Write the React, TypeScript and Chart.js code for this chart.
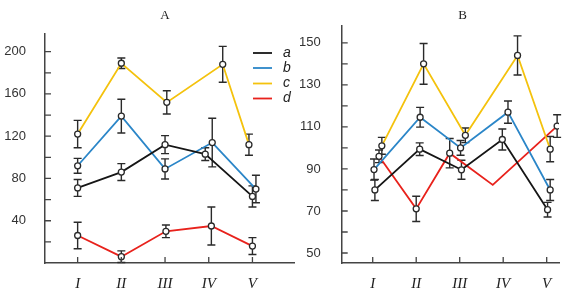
import React, { useEffect, useRef } from 'react';
import { Chart, registerables } from 'chart.js';
Chart.register(...registerables);

const categories = ['I', 'II', 'III', 'IV', 'V'];
const seriesNames = ['a', 'b', 'c', 'd'];
const seriesColors = ['#161616', '#2b86c8', '#f4c20d', '#e8221c'];

// Panel A values, errors and x placement (category units)
const aA = [71, 86, 112, 103, 63];
const bA = [92, 139, 89, 114, 70];
const cA = [122, 189, 152, 188, 112];
const dA = [26, 6, 30, 35, 16];
const aAErr = [8, 8, 8.5, 6, 10];
const bAErr = [7, 16, 9.5, 23, 13];
const cAErr = [13, 5, 11, 17, 10];
const dAErr = [12.5, 5.5, 6, 18, 8];
const aAx = [1, 2, 3, 3.92, 5];
const bAx = [1, 2, 3, 4.08, 5.08];
const cAx = [1, 2, 3.04, 4.32, 4.92];
const dAx = [1, 2, 3.02, 4.06, 5];
const yTicksA = [0, 20, 40, 60, 80, 100, 120, 140, 160, 180, 200];
const yLabelsA = [40, 80, 120, 160, 200];

// Panel B
const aB = [80, 99.4, 89.6, 104, 70.6];
const bB = [89.7, 114.6, 100, 117, 80];
const cB = [101, 140, 106, 144, 99.4];
const dB = [96, 71, 97.5, 82.4, 110.4];
const aBErr = [5, 3, 4.5, 5, 3.5];
const bBErr = [5, 4.7, 3.5, 5.3, 5];
const cBErr = [4, 9.7, 3.5, 9.3, 6];
const dBErr = [3, 6, 7, 0, 5.4];
const aBx = [1.05, 2.08, 3.04, 3.98, 5.02];
const bBx = [1.03, 2.09, 3.02, 4.11, 5.08];
const cBx = [1.21, 2.17, 3.13, 4.33, 5.08];
const dBx = [1.145, 2.0, 2.77, 3.76, 5.24];
const dBMarkers = [true, true, true, false, true];
const yTicksB = [50, 60, 70, 80, 90, 100, 110, 120, 130, 140, 150];
const yLabelsB = [50, 70, 90, 110, 130, 150];

function makeDataset(i: number, xs: number[], ys: number[], errs: number[], markers?: boolean[]) {
  return {
    label: seriesNames[i],
    data: xs.map((x, k) => ({ x, y: ys[k] })),
    errors: errs,
    borderColor: seriesColors[i],
    borderWidth: 1.8,
    tension: 0,
    pointRadius: markers ? markers.map((m) => (m ? 3 : 0)) : 3,
    pointBackgroundColor: '#ffffff',
    pointBorderColor: '#2a2a2a',
    pointBorderWidth: 1.3,
  };
}

const errorBarPlugin = {
  id: 'errorBars',
  beforeDatasetsDraw(chart: any) {
    const { ctx, chartArea } = chart;
    const xs = chart.scales.x;
    const ys = chart.scales.y;
    ctx.save();
    ctx.strokeStyle = '#2a2a2a';
    ctx.lineWidth = 1.4;
    chart.data.datasets.forEach((ds: any) => {
      ds.data.forEach((p: any, k: number) => {
        const e = ds.errors[k];
        if (!e) return;
        const x = xs.getPixelForValue(p.x);
        const y1 = ys.getPixelForValue(p.y + e);
        const y2 = Math.min(ys.getPixelForValue(p.y - e), chartArea.bottom);
        ctx.beginPath();
        ctx.moveTo(x, y1);
        ctx.lineTo(x, y2);
        ctx.moveTo(x - 4, y1);
        ctx.lineTo(x + 4, y1);
        ctx.moveTo(x - 4, y2);
        ctx.lineTo(x + 4, y2);
        ctx.stroke();
      });
    });
    ctx.restore();
  },
};

const inwardTicksPlugin = {
  id: 'inwardTicks',
  afterDraw(chart: any) {
    const { ctx, chartArea } = chart;
    const xs = chart.scales.x;
    const ys = chart.scales.y;
    ctx.save();
    ctx.strokeStyle = '#444';
    ctx.lineWidth = 1.3;
    ctx.beginPath();
    ys.ticks.forEach((t: any) => {
      if (t.value <= ys.min) return;
      const y = ys.getPixelForValue(t.value);
      ctx.moveTo(chartArea.left, y);
      ctx.lineTo(chartArea.left + 6, y);
    });
    xs.ticks.forEach((t: any) => {
      const x = xs.getPixelForValue(t.value);
      ctx.moveTo(x, chartArea.bottom);
      ctx.lineTo(x, chartArea.bottom - 6);
    });
    ctx.stroke();
    ctx.restore();
  },
};

function makeDecorPlugin(title: string, titleX: number, withLegend: boolean) {
  return {
    id: 'decor',
    afterDraw(chart: any) {
      const { ctx } = chart;
      ctx.save();
      ctx.fillStyle = '#222';
      ctx.font = '13px "Liberation Serif", serif';
      ctx.textAlign = 'center';
      ctx.textBaseline = 'middle';
      ctx.fillText(title, titleX, 16);
      if (withLegend) {
        const ys = [53, 68, 83.5, 98.5];
        seriesNames.forEach((n, i) => {
          ctx.strokeStyle = seriesColors[i];
          ctx.lineWidth = 1.8;
          ctx.beginPath();
          ctx.moveTo(253, ys[i]);
          ctx.lineTo(272, ys[i]);
          ctx.stroke();
          ctx.fillStyle = '#222';
          ctx.font = 'italic 14px "Liberation Sans", Arial, sans-serif';
          ctx.textAlign = 'left';
          ctx.fillText(n, 283, ys[i]);
        });
      }
      ctx.restore();
    },
  };
}

function makeConfig(
  datasets: any[],
  xMin: number,
  xMax: number,
  yMin: number,
  yMax: number,
  yTicks: number[],
  yLabels: number[],
  yWidth: number,
  yPad: number,
  top: number,
  right: number,
  decor: any
) {
  return {
    type: 'line',
    data: { datasets },
    options: {
      animation: false,
      responsive: false,
      maintainAspectRatio: false,
      layout: { padding: { top, right, left: 0, bottom: 0 } },
      plugins: { legend: { display: false }, tooltip: { enabled: false }, title: { display: false } },
      scales: {
        x: {
          type: 'linear',
          min: xMin,
          max: xMax,
          afterBuildTicks: (s: any) => {
            s.ticks = categories.map((_, i) => ({ value: i + 1 }));
          },
          afterFit: (s: any) => {
            s.height = 32;
          },
          ticks: {
            autoSkip: false,
            maxRotation: 0,
            padding: 4,
            color: '#222',
            font: { family: '"Liberation Serif", serif', style: 'italic', size: 15 },
            callback: (v: any) => categories[Math.round(v) - 1] ?? '',
          },
          grid: { display: false },
          border: { display: true, color: '#444', width: 1.5 },
        },
        y: {
          type: 'linear',
          min: yMin,
          max: yMax,
          afterBuildTicks: (s: any) => {
            s.ticks = yTicks.map((v) => ({ value: v }));
          },
          afterFit: (s: any) => {
            s.width = yWidth;
          },
          ticks: {
            padding: yPad,
            color: '#333',
            font: { family: '"Liberation Sans", Arial, sans-serif', size: 13 },
            callback: (v: any) => (yLabels.includes(v) ? String(v) : ''),
          },
          grid: { display: false },
          border: { display: true, color: '#444', width: 1.5 },
        },
      },
    },
    plugins: [errorBarPlugin, inwardTicksPlugin, decor],
  } as any;
}

export default function App() {
  const leftRef = useRef<HTMLCanvasElement>(null);
  const rightRef = useRef<HTMLCanvasElement>(null);

  useEffect(() => {
    const left = new Chart(
      leftRef.current as HTMLCanvasElement,
      makeConfig(
        [
          makeDataset(0, aAx, aA, aAErr),
          makeDataset(1, bAx, bA, bAErr),
          makeDataset(2, cAx, cA, cAErr),
          makeDataset(3, dAx, dA, dAErr),
        ],
        0.253,
        5.967,
        0,
        216.7,
        yTicksA,
        yLabelsA,
        45,
        11,
        34,
        5,
        makeDecorPlugin('A', 165, true)
      )
    );
    const right = new Chart(
      rightRef.current as HTMLCanvasElement,
      makeConfig(
        [
          makeDataset(0, aBx, aB, aBErr),
          makeDataset(1, bBx, bB, bBErr),
          makeDataset(2, cBx, cB, cBErr),
          makeDataset(3, dBx, dB, dBErr, dBMarkers),
        ],
        0.287,
        5.283,
        45.25,
        158,
        yTicksB,
        yLabelsB,
        41.7,
        13,
        26,
        8,
        makeDecorPlugin('B', 162.7, false)
      )
    );
    return () => {
      left.destroy();
      right.destroy();
    };
  }, []);

  return (
    <div style={{ position: 'absolute', left: 0, top: 0, width: 567, height: 295, background: '#fff' }}>
      <canvas ref={leftRef} width={300} height={295} style={{ position: 'absolute', left: 0, top: 0 }} />
      <canvas ref={rightRef} width={267} height={295} style={{ position: 'absolute', left: 300, top: 0 }} />
    </div>
  );
}
